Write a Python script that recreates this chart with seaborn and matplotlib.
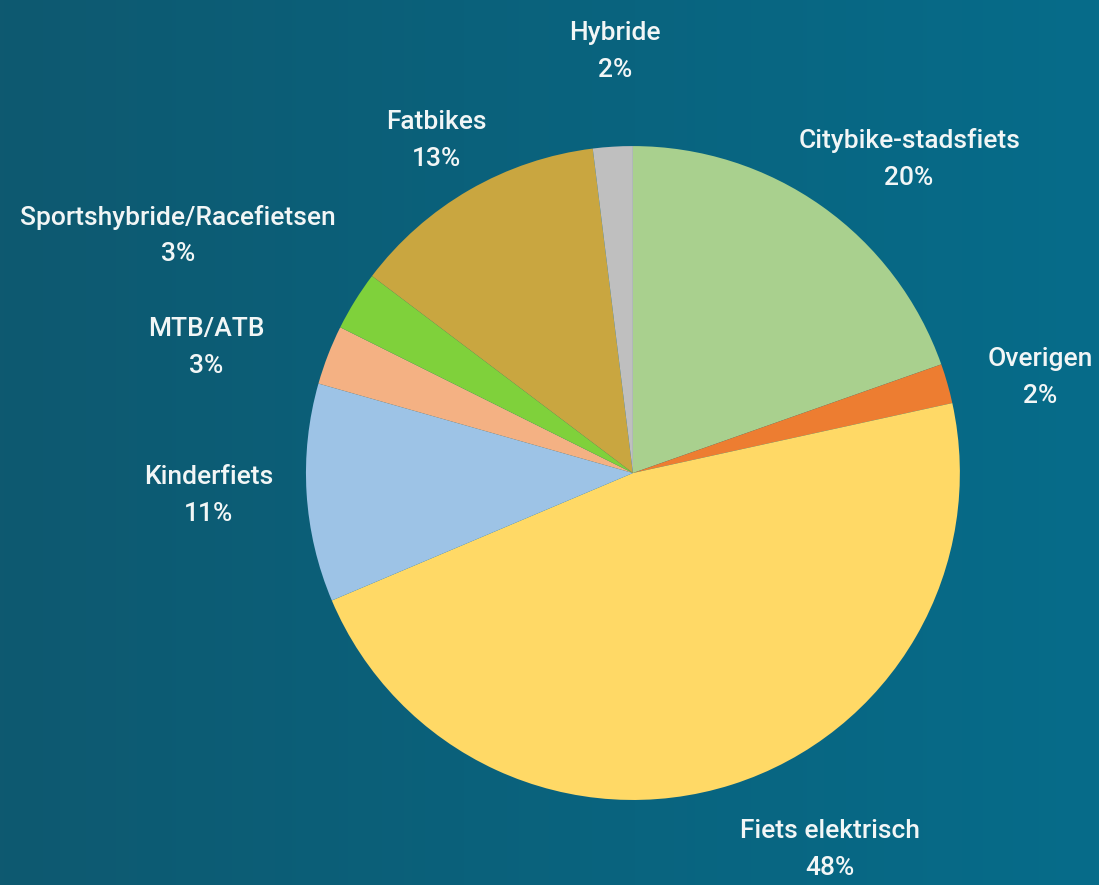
import matplotlib
matplotlib.use("Agg")
import matplotlib.pyplot as plt
import seaborn as sns
import numpy as np
from matplotlib.colors import LinearSegmentedColormap

# categories clockwise from 12 o'clock, with the percentages shown on the chart
categories = ["Citybike-stadsfiets", "Overigen", "Fiets elektrisch", "Kinderfiets",
              "MTB/ATB", "Sportshybride/Racefietsen", "Fatbikes", "Hybride"]
shares = [20, 2, 48, 11, 3, 3, 13, 2]
slice_colors = ["#a9d08e", "#ed7d31", "#ffd966", "#9dc3e6",
                "#f4b183", "#7fd13b", "#c9a640", "#bfbfbf"]

# label placement: distance from centre (in radii) and angle nudge (degrees)
label_dist = [1.28, 1.28, 1.30, 1.30, 1.36, 1.57, 1.18, 1.29]
label_nudge = [-6, -2.7, 10, -0.5, 4.8, 4.2, 0.6, -1.1]

sns.set_theme(style="white")
plt.rcParams['font.family'] = ['Roboto', 'DejaVu Sans']

fig = plt.figure(figsize=(10.99, 8.85), dpi=100)

# background gradient, dark teal on the left to lighter teal on the right
bg = fig.add_axes([0, 0, 1, 1], zorder=0)
bg_cmap = LinearSegmentedColormap.from_list("bg", ["#0e5970", "#066c8a"])
bg.imshow(np.linspace(0, 1, 256).reshape(1, -1), aspect="auto", cmap=bg_cmap,
          extent=[0, 1, 0, 1])
bg.set_axis_off()

ax = fig.add_axes([0.2784, 0.096, 0.595, 0.739], zorder=1)
ax.patch.set_alpha(0)
wedges, _ = ax.pie(shares, colors=slice_colors, startangle=90, counterclock=False,
                   wedgeprops=dict(linewidth=0))

for w, cat, s, d, nudge in zip(wedges, categories, shares, label_dist, label_nudge):
    mid = np.deg2rad((w.theta1 + w.theta2) / 2 + nudge)
    ax.text(d * np.cos(mid), d * np.sin(mid), f"{cat}\n{s}%", ha="center", va="center",
            color="#f2f6f6", fontsize=19, fontweight="medium", linespacing=1.68)

ax.set_xlim(-1, 1)
ax.set_ylim(-1, 1)
ax.set_aspect("equal")

fig.savefig("out.png", dpi=100)
